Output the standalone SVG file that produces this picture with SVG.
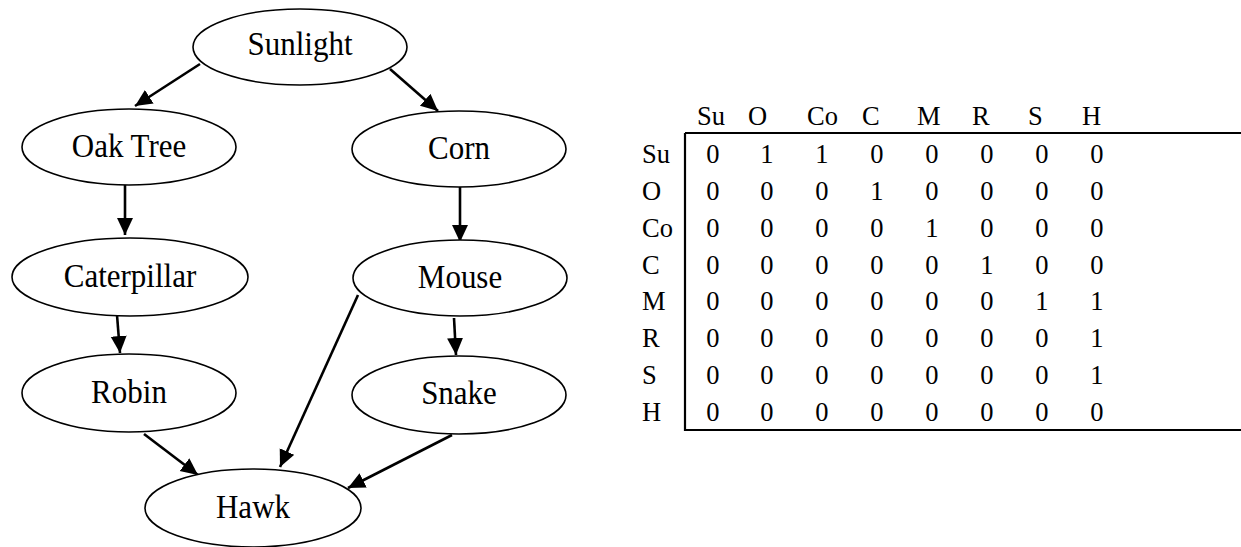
<svg xmlns="http://www.w3.org/2000/svg" width="1241" height="547" viewBox="0 0 1241 547">
<style>
.node ellipse{fill:#fff;stroke:#000;stroke-width:1.6}
.node text{font-family:"Liberation Serif",serif;font-size:31px;text-anchor:middle;fill:#000}
.edge{stroke:#000;stroke-width:2.6;fill:none;marker-end:url(#ah)}
.tb text{font-family:"Liberation Serif",serif;font-size:26.5px;fill:#000}
.tb .c text{text-anchor:middle}
</style>
<defs>
<marker id="ah" markerUnits="userSpaceOnUse" markerWidth="18" markerHeight="17" refX="17" refY="8" orient="auto">
<path d="M0,0 L17,8 L0,16 z" fill="#000"/>
</marker>
</defs>
<rect width="1241" height="547" fill="#fff"/>
<g id="edges">
<line class="edge" x1="200" y1="64" x2="135" y2="106"/>
<line class="edge" x1="390" y1="69" x2="438" y2="111"/>
<line class="edge" x1="125" y1="185" x2="125" y2="235"/>
<line class="edge" x1="460" y1="187" x2="460" y2="242"/>
<line class="edge" x1="117" y1="315" x2="120" y2="353"/>
<line class="edge" x1="454" y1="318" x2="456" y2="355"/>
<line class="edge" x1="358" y1="295" x2="280" y2="467"/>
<line class="edge" x1="144" y1="434" x2="198" y2="475"/>
<line class="edge" x1="452" y1="435" x2="348" y2="488"/>
</g>
<g id="sunlight" class="node"><ellipse cx="300" cy="47" rx="107" ry="38"/><text transform="translate(300,55) scale(1,1.12)">Sunlight</text></g>
<g id="oaktree" class="node"><ellipse cx="129" cy="147" rx="107" ry="38"/><text transform="translate(129,157) scale(1,1.12)">Oak Tree</text></g>
<g id="corn" class="node"><ellipse cx="459" cy="149" rx="107" ry="38"/><text transform="translate(459,159) scale(1,1.12)">Corn</text></g>
<g id="caterpillar" class="node"><ellipse cx="130" cy="277" rx="118" ry="39"/><text transform="translate(130,287) scale(1,1.12)">Caterpillar</text></g>
<g id="mouse" class="node"><ellipse cx="460" cy="278" rx="107" ry="38"/><text transform="translate(460,288) scale(1,1.12)">Mouse</text></g>
<g id="robin" class="node"><ellipse cx="129" cy="393" rx="107" ry="39"/><text transform="translate(129,403) scale(1,1.12)">Robin</text></g>
<g id="snake" class="node"><ellipse cx="459" cy="395" rx="107" ry="39"/><text transform="translate(459,404) scale(1,1.12)">Snake</text></g>
<g id="hawk" class="node"><ellipse cx="253" cy="508" rx="108" ry="39"/><text transform="translate(253,518) scale(1,1.12)">Hawk</text></g>
<g id="matrix" class="tb">
<path d="M685,133 L1241,133 M685,133 L685,430 L1241,430" stroke="#000" stroke-width="2.2" fill="none"/>
<text transform="translate(0,125) scale(1,1.07)"><tspan x="697">Su</tspan><tspan x="748">O</tspan><tspan x="807">Co</tspan><tspan x="862">C</tspan><tspan x="917">M</tspan><tspan x="972">R</tspan><tspan x="1028">S</tspan><tspan x="1082">H</tspan></text>
<text transform="translate(642,163) scale(1,1.07)">Su</text>
<text transform="translate(642,200) scale(1,1.07)">O</text>
<text transform="translate(642,237) scale(1,1.07)">Co</text>
<text transform="translate(642,274) scale(1,1.07)">C</text>
<text transform="translate(642,310) scale(1,1.07)">M</text>
<text transform="translate(642,347) scale(1,1.07)">R</text>
<text transform="translate(642,384) scale(1,1.07)">S</text>
<text transform="translate(642,421) scale(1,1.07)">H</text>
<g class="c">
<text transform="translate(0,163) scale(1,1.07)"><tspan x="713">0</tspan><tspan x="767">1</tspan><tspan x="822">1</tspan><tspan x="877">0</tspan><tspan x="932">0</tspan><tspan x="987">0</tspan><tspan x="1042">0</tspan><tspan x="1097">0</tspan></text>
<text transform="translate(0,200) scale(1,1.07)"><tspan x="713">0</tspan><tspan x="767">0</tspan><tspan x="822">0</tspan><tspan x="877">1</tspan><tspan x="932">0</tspan><tspan x="987">0</tspan><tspan x="1042">0</tspan><tspan x="1097">0</tspan></text>
<text transform="translate(0,237) scale(1,1.07)"><tspan x="713">0</tspan><tspan x="767">0</tspan><tspan x="822">0</tspan><tspan x="877">0</tspan><tspan x="932">1</tspan><tspan x="987">0</tspan><tspan x="1042">0</tspan><tspan x="1097">0</tspan></text>
<text transform="translate(0,274) scale(1,1.07)"><tspan x="713">0</tspan><tspan x="767">0</tspan><tspan x="822">0</tspan><tspan x="877">0</tspan><tspan x="932">0</tspan><tspan x="987">1</tspan><tspan x="1042">0</tspan><tspan x="1097">0</tspan></text>
<text transform="translate(0,310) scale(1,1.07)"><tspan x="713">0</tspan><tspan x="767">0</tspan><tspan x="822">0</tspan><tspan x="877">0</tspan><tspan x="932">0</tspan><tspan x="987">0</tspan><tspan x="1042">1</tspan><tspan x="1097">1</tspan></text>
<text transform="translate(0,347) scale(1,1.07)"><tspan x="713">0</tspan><tspan x="767">0</tspan><tspan x="822">0</tspan><tspan x="877">0</tspan><tspan x="932">0</tspan><tspan x="987">0</tspan><tspan x="1042">0</tspan><tspan x="1097">1</tspan></text>
<text transform="translate(0,384) scale(1,1.07)"><tspan x="713">0</tspan><tspan x="767">0</tspan><tspan x="822">0</tspan><tspan x="877">0</tspan><tspan x="932">0</tspan><tspan x="987">0</tspan><tspan x="1042">0</tspan><tspan x="1097">1</tspan></text>
<text transform="translate(0,421) scale(1,1.07)"><tspan x="713">0</tspan><tspan x="767">0</tspan><tspan x="822">0</tspan><tspan x="877">0</tspan><tspan x="932">0</tspan><tspan x="987">0</tspan><tspan x="1042">0</tspan><tspan x="1097">0</tspan></text>
</g>
</g>
</svg>
